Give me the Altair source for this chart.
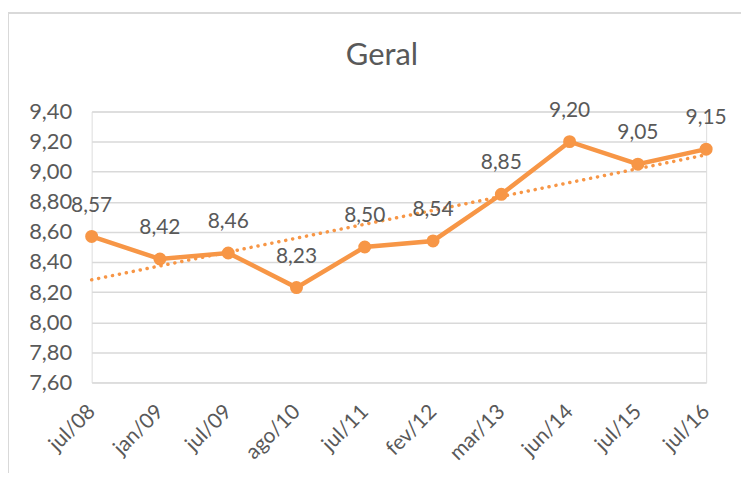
import json
import altair as alt
import pandas as pd

categories = ["jul/08", "jan/09", "jul/09", "ago/10", "jul/11", "fev/12", "mar/13", "jun/14", "jul/15", "jul/16"]
values = [8.57, 8.42, 8.46, 8.23, 8.50, 8.54, 8.85, 9.20, 9.05, 9.15]
y_ticks = [7.60, 7.80, 8.00, 8.20, 8.40, 8.60, 8.80, 9.00, 9.20, 9.40]

df = pd.DataFrame({"idx": list(range(len(categories))), "cat": categories, "v": values})

ORANGE = "#F79646"
GRAY = "#595959"
FONT = "Lato"

lab_expr = json.dumps(categories) + "[datum.value]"

x = alt.X("idx:Q",
          scale=alt.Scale(domain=[0, len(categories) - 1], nice=False, zero=False),
          axis=alt.Axis(values=list(range(len(categories))), labelExpr=lab_expr, labelAngle=-45,
                        grid=False, ticks=False, domain=False, labelFontSize=21, labelColor=GRAY,
                        labelFont=FONT, labelPadding=26, title=None, labelAlign="right",
                        labelBaseline="middle"))
y = alt.Y("v:Q",
          scale=alt.Scale(domain=[7.6, 9.4], nice=False, zero=False),
          axis=alt.Axis(values=y_ticks, labelExpr="replace(format(datum.value, '.2f'), '.', ',')",
                        grid=True, gridColor="#d9d9d9", gridWidth=1.5, ticks=False, domain=False,
                        labelFontSize=22, labelColor=GRAY, labelFont=FONT, labelPadding=20, title=None))

base = alt.Chart(df)

frame = base.mark_rect(fill=None, stroke="#d9d9d9", strokeWidth=2, clip=False).encode(
    x=alt.value(-84), x2=alt.value(700), y=alt.value(-99), y2=alt.value(420)
).transform_filter("datum.idx == 0")

trend = base.transform_regression("idx", "v", method="linear", extent=[0, 9]).mark_line(
    color=ORANGE, strokeWidth=3.5, strokeDash=[0.1, 7], strokeCap="round"
).encode(x=x, y=y)

line = base.mark_line(color=ORANGE, strokeWidth=4.5).encode(x=x, y=y)
pts = base.mark_circle(color=ORANGE, size=170, opacity=1).encode(x=x, y=y)
labels = base.transform_calculate(
    lab="replace(format(datum.v, '.2f'), '.', ',')"
).mark_text(dy=-31, fontSize=21, color=GRAY, font=FONT).encode(x=x, y=y, text="lab:N")

chart = alt.layer(frame, trend, line, pts, labels).properties(
    width=617, height=272,
    title=alt.TitleParams("Geral", fontSize=31, font=FONT, color=GRAY, fontWeight="normal",
                          anchor="middle", dx=-17, offset=-60),
    autosize=alt.AutoSizeParams(type="none"),
    padding={"left": 84, "top": 103, "right": 35, "bottom": 90},
).configure_view(stroke=None).configure(background="white")

chart.save("out.html", embed_options={"renderer": "svg", "actions": False})
